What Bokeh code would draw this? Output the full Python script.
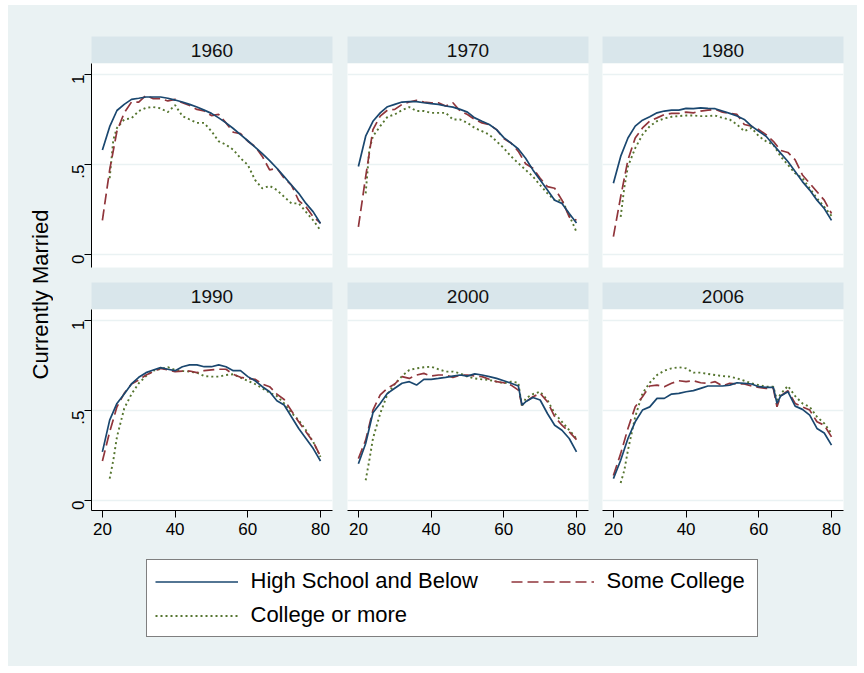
from math import pi
from bokeh.plotting import figure
from bokeh.layouts import row, column
from bokeh.models import Range1d, Label, Legend, LegendItem, FixedTicker, LinearAxis
from bokeh.embed import file_html
from bokeh.resources import INLINE

BG = "#EAF2F3"
STRIP = "#D9E6EB"
FONT = "Liberation Sans"
C_HS = "#1A476F"
C_SC = "#90353B"
C_CO = "#55752F"

# ---------------- data ----------------
age_e = [20, 22, 24, 26, 28, 30, 32, 34, 36, 38, 40, 42, 44, 46, 48, 50,
         52, 54, 56, 58, 60, 62, 64, 66, 68, 70, 72, 74, 76, 78, 80]
age_c = [22, 23, 24, 26, 28, 30, 32, 34, 36, 38, 40, 42, 44, 46, 48, 50,
         52, 54, 56, 58, 60, 62, 64, 66, 68, 70, 72, 74, 76, 78, 80]
age_e65 = [20, 22, 24, 26, 28, 30, 32, 34, 36, 38, 40, 42, 44, 46, 48, 50,
           52, 54, 56, 58, 60, 62, 64, 65, 66, 68, 70, 72, 74, 76, 78, 80]
age_c65 = [22, 23, 24, 26, 28, 30, 32, 34, 36, 38, 40, 42, 44, 46, 48, 50,
           52, 54, 56, 58, 60, 62, 64, 65, 66, 68, 70, 72, 74, 76, 78, 80]

years = ["1960", "1970", "1980", "1990", "2000", "2006"]

hs_1960 = [0.58, 0.71, 0.80, 0.834, 0.862, 0.868, 0.875, 0.875, 0.875, 0.868, 0.858, 0.847, 0.834, 0.819, 0.802, 0.784,
           0.759, 0.731, 0.70, 0.666, 0.632, 0.597, 0.56, 0.522, 0.479, 0.433, 0.386, 0.34, 0.284, 0.237, 0.172]
sc_1960 = [0.19, 0.47, 0.685, 0.787, 0.847, 0.847, 0.884, 0.866, 0.866, 0.853, 0.862, 0.843, 0.828, 0.806, 0.797, 0.772,
           0.778, 0.731, 0.679, 0.672, 0.629, 0.60, 0.545, 0.47, 0.479, 0.424, 0.386, 0.30, 0.265, 0.209, 0.175]
co_1960 = [0.424, 0.638, 0.703, 0.75, 0.757, 0.797, 0.815, 0.819, 0.812, 0.791, 0.83, 0.769, 0.75, 0.731, 0.731, 0.685,
           0.629, 0.61, 0.582, 0.535, 0.498, 0.414, 0.368, 0.381, 0.358, 0.321, 0.284, 0.284, 0.237, 0.19, 0.134]

hs_1970 = [0.489, 0.657, 0.74, 0.787, 0.821, 0.834, 0.847, 0.849, 0.849, 0.843, 0.838, 0.834, 0.825, 0.819, 0.806, 0.791,
           0.759, 0.74, 0.722, 0.694, 0.649, 0.619, 0.586, 0.535, 0.47, 0.414, 0.358, 0.302, 0.284, 0.228, 0.175]
sc_1970 = [0.153, 0.433, 0.694, 0.769, 0.802, 0.806, 0.834, 0.847, 0.856, 0.847, 0.843, 0.843, 0.825, 0.843, 0.797, 0.778,
           0.75, 0.731, 0.722, 0.694, 0.644, 0.619, 0.573, 0.504, 0.479, 0.424, 0.377, 0.368, 0.302, 0.209, 0.19]
co_1970 = [0.34, 0.582, 0.657, 0.713, 0.765, 0.778, 0.802, 0.819, 0.797, 0.797, 0.787, 0.787, 0.787, 0.75, 0.75, 0.731,
           0.703, 0.685, 0.666, 0.629, 0.591, 0.545, 0.507, 0.47, 0.433, 0.386, 0.34, 0.302, 0.302, 0.218, 0.125]

hs_1980 = [0.396, 0.545, 0.647, 0.713, 0.746, 0.765, 0.787, 0.797, 0.802, 0.802, 0.812, 0.81, 0.815, 0.812, 0.81, 0.797,
           0.784, 0.769, 0.75, 0.713, 0.685, 0.657, 0.61, 0.563, 0.517, 0.461, 0.405, 0.358, 0.302, 0.256, 0.19]
sc_1980 = [0.10, 0.321, 0.526, 0.647, 0.703, 0.741, 0.759, 0.778, 0.784, 0.784, 0.791, 0.787, 0.797, 0.802, 0.806, 0.791,
           0.784, 0.778, 0.722, 0.713, 0.694, 0.666, 0.629, 0.578, 0.567, 0.526, 0.442, 0.396, 0.349, 0.302, 0.228]
co_1980 = [0.209, 0.373, 0.489, 0.591, 0.666, 0.713, 0.741, 0.756, 0.765, 0.769, 0.772, 0.772, 0.769, 0.769, 0.772, 0.759,
           0.75, 0.722, 0.685, 0.703, 0.657, 0.629, 0.61, 0.545, 0.498, 0.451, 0.424, 0.368, 0.312, 0.265, 0.215]

hs_1990 = [0.27, 0.446, 0.539, 0.591, 0.647, 0.684, 0.71, 0.725, 0.738, 0.729, 0.721, 0.743, 0.753, 0.753, 0.743, 0.743,
           0.753, 0.743, 0.721, 0.721, 0.688, 0.665, 0.632, 0.604, 0.554, 0.53, 0.465, 0.40, 0.344, 0.288, 0.219]
sc_1990 = [0.219, 0.381, 0.52, 0.595, 0.647, 0.669, 0.697, 0.716, 0.734, 0.725, 0.716, 0.719, 0.719, 0.71, 0.721, 0.725,
           0.729, 0.729, 0.701, 0.684, 0.678, 0.673, 0.647, 0.632, 0.591, 0.561, 0.498, 0.437, 0.381, 0.325, 0.245]
co_1990 = [0.121, 0.223, 0.353, 0.511, 0.591, 0.651, 0.691, 0.721, 0.73, 0.74, 0.725, 0.719, 0.716, 0.71, 0.691, 0.688,
           0.688, 0.697, 0.701, 0.682, 0.665, 0.647, 0.623, 0.599, 0.58, 0.539, 0.487, 0.446, 0.39, 0.325, 0.242]

hs_2000 = [0.204, 0.316, 0.487, 0.539, 0.595, 0.623, 0.651, 0.66, 0.641, 0.673, 0.673, 0.678, 0.684, 0.691, 0.697, 0.691,
           0.703, 0.697, 0.688, 0.678, 0.665, 0.651, 0.636, 0.53, 0.548, 0.572, 0.558, 0.483, 0.418, 0.39, 0.344, 0.27]
sc_2000 = [0.232, 0.335, 0.502, 0.586, 0.623, 0.647, 0.688, 0.678, 0.697, 0.706, 0.691, 0.697, 0.697, 0.684, 0.697, 0.697,
           0.691, 0.688, 0.673, 0.66, 0.654, 0.641, 0.613, 0.53, 0.548, 0.576, 0.595, 0.548, 0.465, 0.418, 0.381, 0.338]
co_2000 = [0.112, 0.223, 0.344, 0.483, 0.591, 0.647, 0.691, 0.725, 0.734, 0.74, 0.743, 0.729, 0.716, 0.716, 0.706, 0.688,
           0.678, 0.673, 0.669, 0.66, 0.651, 0.66, 0.654, 0.52, 0.567, 0.591, 0.604, 0.558, 0.483, 0.437, 0.39, 0.344]

hs_2006 = [0.121, 0.223, 0.344, 0.437, 0.502, 0.52, 0.567, 0.567, 0.591, 0.595, 0.604, 0.61, 0.623, 0.636, 0.636, 0.636,
           0.641, 0.654, 0.651, 0.647, 0.632, 0.628, 0.628, 0.539, 0.58, 0.604, 0.524, 0.506, 0.474, 0.40, 0.375, 0.307]
sc_2006 = [0.139, 0.26, 0.40, 0.52, 0.576, 0.636, 0.641, 0.632, 0.651, 0.665, 0.66, 0.665, 0.654, 0.651, 0.66, 0.636,
           0.651, 0.647, 0.647, 0.636, 0.628, 0.623, 0.623, 0.52, 0.58, 0.61, 0.539, 0.52, 0.502, 0.437, 0.418, 0.353]
co_2006 = [0.097, 0.167, 0.279, 0.465, 0.595, 0.654, 0.697, 0.721, 0.734, 0.74, 0.734, 0.71, 0.71, 0.703, 0.697, 0.691,
           0.688, 0.678, 0.665, 0.651, 0.641, 0.632, 0.632, 0.558, 0.591, 0.636, 0.58, 0.539, 0.52, 0.465, 0.428, 0.372]

series = {
    "1960": (age_e, hs_1960, age_e, sc_1960, age_c, co_1960),
    "1970": (age_e, hs_1970, age_e, sc_1970, age_c, co_1970),
    "1980": (age_e, hs_1980, age_e, sc_1980, age_c, co_1980),
    "1990": (age_e, hs_1990, age_e, sc_1990, age_c, co_1990),
    "2000": (age_e65, hs_2000, age_e65, sc_2000, age_c65, co_2000),
    "2006": (age_e65, hs_2006, age_e65, sc_2006, age_c65, co_2006),
}

x_ticks = [20, 40, 60, 80]
y_ticks = [0, 0.5, 1]
y_tick_labels = {0: "0", 0.5: ".5", 1: "1"}
legend_labels = ["High School and Below", "Some College", "College or more"]
y_title = "Currently Married"

LW = 1.7
DASH_SC = "11 5"
DASH_CO = "2 3"

# ---------------- geometry ----------------
FW = 241
borders_lr = [(38, 7), (8, 7), (7, 14)]
BGSTYLE = {"background-color": BG}


def header(year, col, top):
    bl, br = borders_lr[col]
    h = figure(width=bl + FW + br, height=top + 27, x_range=Range1d(0, 1), y_range=Range1d(0, 1),
               min_border_left=bl, min_border_right=br, min_border_top=top, min_border_bottom=0,
               x_axis_location=None, y_axis_location=None, toolbar_location=None,
               background_fill_color=STRIP, border_fill_color=BG, outline_line_color=None,
               output_backend="svg", styles=BGSTYLE)
    h.xgrid.visible = False
    h.ygrid.visible = False
    h.add_layout(Label(x=0.5, y=0.5, text=year, text_align="center", text_baseline="middle",
                       text_font=FONT, text_font_size="19px", text_color="#111111"))
    return h


def panel(year, col, rowi):
    bl, br = borders_lr[col]
    if rowi == 0:
        fh, bb, ymin = 204, 15, -0.072
    else:
        fh, bb, ymin = 201, 45, -0.056
    p = figure(width=bl + FW + br, height=fh + bb, x_range=Range1d(17.0, 83.3), y_range=Range1d(ymin, 1.061),
               min_border_left=bl, min_border_right=br, min_border_top=0, min_border_bottom=bb,
               x_axis_location=None, y_axis_location=None, toolbar_location=None,
               background_fill_color="white", border_fill_color=BG, outline_line_color=None,
               output_backend="svg", styles=BGSTYLE)
    p.xgrid.visible = False
    p.ygrid.ticker = FixedTicker(ticks=y_ticks)
    p.ygrid.grid_line_color = BG
    p.ygrid.grid_line_width = 1.6
    if col == 0:
        ya = LinearAxis(ticker=FixedTicker(ticks=y_ticks), major_label_overrides=y_tick_labels)
        ya.major_label_orientation = pi / 2
        ya.major_tick_out = 7
        ya.major_tick_in = 0
        ya.minor_tick_out = 0
        ya.minor_tick_in = 0
        ya.major_label_standoff = 6
        ya.major_label_text_font = FONT
        ya.major_label_text_font_size = "17px"
        ya.major_label_text_color = "black"
        ya.axis_line_color = "black"
        ya.major_tick_line_color = "black"
        p.add_layout(ya, "left")
    if rowi == 1:
        xa = LinearAxis(ticker=FixedTicker(ticks=x_ticks))
        xa.major_tick_out = 7
        xa.major_tick_in = 0
        xa.minor_tick_out = 0
        xa.minor_tick_in = 0
        xa.major_label_standoff = 5
        xa.major_label_text_font = FONT
        xa.major_label_text_font_size = "17px"
        xa.major_label_text_color = "black"
        xa.axis_line_color = "black"
        xa.major_tick_line_color = "black"
        p.add_layout(xa, "below")
    a1, hs, a2, sc, a3, co = series[year]
    p.line(a3, co, line_color=C_CO, line_width=1.9, line_dash=DASH_CO)
    p.line(a2, sc, line_color=C_SC, line_width=LW, line_dash=DASH_SC)
    p.line(a1, hs, line_color=C_HS, line_width=LW)
    return p


rows = []
for rowi in range(2):
    hrow = row(*[header(years[rowi * 3 + c], c, 31 if rowi == 0 else 0) for c in range(3)], styles=BGSTYLE)
    prow = row(*[panel(years[rowi * 3 + c], c, rowi) for c in range(3)], styles=BGSTYLE)
    rows.extend([hrow, prow])

# legend figure: its ranges are far from the data, so the lines stay outside the frame
# and only their legend glyphs show.
lf = figure(width=804, height=111, x_range=Range1d(0, 1), y_range=Range1d(0, 1),
            min_border_left=0, min_border_right=0, min_border_top=0, min_border_bottom=0,
            x_axis_location=None, y_axis_location=None, toolbar_location=None,
            background_fill_color=BG, border_fill_color=BG, outline_line_color=None,
            output_backend="svg", styles=BGSTYLE)
lf.xgrid.visible = False
lf.ygrid.visible = False
r_hs = lf.line(age_e, hs_1960, line_color=C_HS, line_width=LW)
r_sc = lf.line(age_e, sc_1960, line_color=C_SC, line_width=LW, line_dash=DASH_SC)
r_co = lf.line(age_c, co_1960, line_color=C_CO, line_width=1.9, line_dash=DASH_CO)

common = dict(orientation="vertical", padding=8, spacing=8, label_height=25, glyph_width=83,
              glyph_height=25, label_standoff=13, margin=0,
              label_text_font=FONT, label_text_font_size="22px", label_text_color="black")
L1 = Legend(items=[LegendItem(label=legend_labels[0], renderers=[r_hs]),
                   LegendItem(label=legend_labels[2], renderers=[r_co])],
            location=(92.5, 29), label_width=498,
            border_line_color="black", border_line_width=1,
            background_fill_color="white", background_fill_alpha=1, **common)
L2 = Legend(items=[LegendItem(label=legend_labels[1], renderers=[r_sc])],
            location=(457.5, 72), label_width=20,
            border_line_color=None, background_fill_alpha=0, **common)
lf.add_layout(L1)
lf.add_layout(L2)

# y title figure
yf = figure(width=45, height=661, x_range=Range1d(0, 45), y_range=Range1d(0, 661),
            min_border_left=0, min_border_right=0, min_border_top=0, min_border_bottom=0,
            x_axis_location=None, y_axis_location=None, toolbar_location=None,
            background_fill_color=BG, border_fill_color=BG, outline_line_color=None,
            output_backend="svg", styles=BGSTYLE)
yf.xgrid.visible = False
yf.ygrid.visible = False
yf.add_layout(Label(x=32, y=372, text=y_title, angle=pi / 2, text_align="center", text_baseline="middle",
                    text_font=FONT, text_font_size="22px", text_color="black"))

layout = row(yf, column(*rows, lf, styles=BGSTYLE), margin=(5, 0, 0, 8), styles=BGSTYLE)

open("out.html", "w").write(file_html(layout, INLINE))
